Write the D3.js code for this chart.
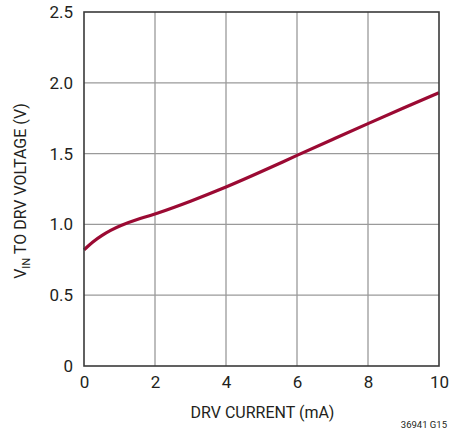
<!DOCTYPE html>
<html><head><meta charset="utf-8">
<script src="https://cdn.jsdelivr.net/npm/d3@7"></script>
<style>
html,body{margin:0;padding:0;background:#fff;}
text{font-family:"Roboto","Liberation Sans",sans-serif;fill:#231f20;}
</style></head>
<body>
<svg id="c" width="465" height="435"></svg>
<script>
const currentMA = [0, 0.25, 0.5, 0.75, 1, 1.5, 2, 3, 4, 5, 6, 7, 8, 9, 10];
const voltageV  = [0.82, 0.878, 0.922, 0.958, 0.99, 1.036, 1.072, 1.163, 1.262, 1.372, 1.488, 1.600, 1.712, 1.822, 1.93];
const xTicks = [0, 2, 4, 6, 8, 10];
const yTicks = [0, 0.5, 1.0, 1.5, 2.0, 2.5];
const yTickLabels = ["0", "0.5", "1.0", "1.5", "2.0", "2.5"];
const xTitle = "DRV CURRENT (mA)";
const noteText = "36941 G15";

const svg = d3.select("#c");
const L = 84, R = 439, T = 12, B = 366;
const x = d3.scaleLinear().domain([0, 10]).range([L, R]);
const y = d3.scaleLinear().domain([0, 2.5]).range([B, T]);

// grid
const g = svg.append("g");
g.selectAll("line.v").data(xTicks.slice(1, -1)).enter().append("line")
  .attr("x1", d => x(d)).attr("x2", d => x(d)).attr("y1", T).attr("y2", B)
  .attr("stroke", "#9a9a9a").attr("stroke-width", 1.3);
g.selectAll("line.h").data(yTicks.slice(1, -1)).enter().append("line")
  .attr("y1", d => y(d)).attr("y2", d => y(d)).attr("x1", L).attr("x2", R)
  .attr("stroke", "#9a9a9a").attr("stroke-width", 1.3);

// curve
const line = d3.line().x(d => x(d[0])).y(d => y(d[1])).curve(d3.curveBasis);
svg.append("path").datum(currentMA.map((c, i) => [c, voltageV[i]]))
  .attr("d", line).attr("fill", "none").attr("stroke", "#9b0a33")
  .attr("stroke-width", 3.2).attr("stroke-linejoin", "round");

// frame
svg.append("rect").attr("x", L).attr("y", T).attr("width", R - L).attr("height", B - T)
  .attr("fill", "none").attr("stroke", "#3a3a3a").attr("stroke-width", 1.6);

// axes labels via d3 axes
const xAxis = d3.axisBottom(x).tickValues(xTicks).tickSize(0).tickPadding(10).tickFormat(d3.format("d"));
const xg = svg.append("g").attr("transform", `translate(0,${B})`).call(xAxis);
xg.select(".domain").remove();
xg.selectAll("text").attr("font-size", 17).style("font-family", null);

const yAxis = d3.axisLeft(y).tickValues(yTicks).tickSize(0).tickPadding(11)
  .tickFormat((d, i) => yTickLabels[i]);
const yg = svg.append("g").attr("transform", `translate(${L},0)`).call(yAxis);
yg.select(".domain").remove();
yg.selectAll("text").attr("font-size", 17).style("font-family", null);

// titles
svg.append("text").attr("x", (L + R) / 2 + 1).attr("y", 418).attr("text-anchor", "middle")
  .attr("font-size", 16).text(xTitle);

const yt = svg.append("text").attr("transform", `translate(26,${(T + B) / 2 + 2}) rotate(-90)`)
  .attr("text-anchor", "middle").attr("font-size", 16);
yt.append("tspan").text("V");
yt.append("tspan").attr("font-size", 11).attr("dy", 4).text("IN");
yt.append("tspan").attr("dy", -4).text(" TO DRV VOLTAGE (V)");

svg.append("text").attr("x", 447).attr("y", 428).attr("text-anchor", "end")
  .attr("font-size", 9.5).text(noteText);
</script>
</body></html>
